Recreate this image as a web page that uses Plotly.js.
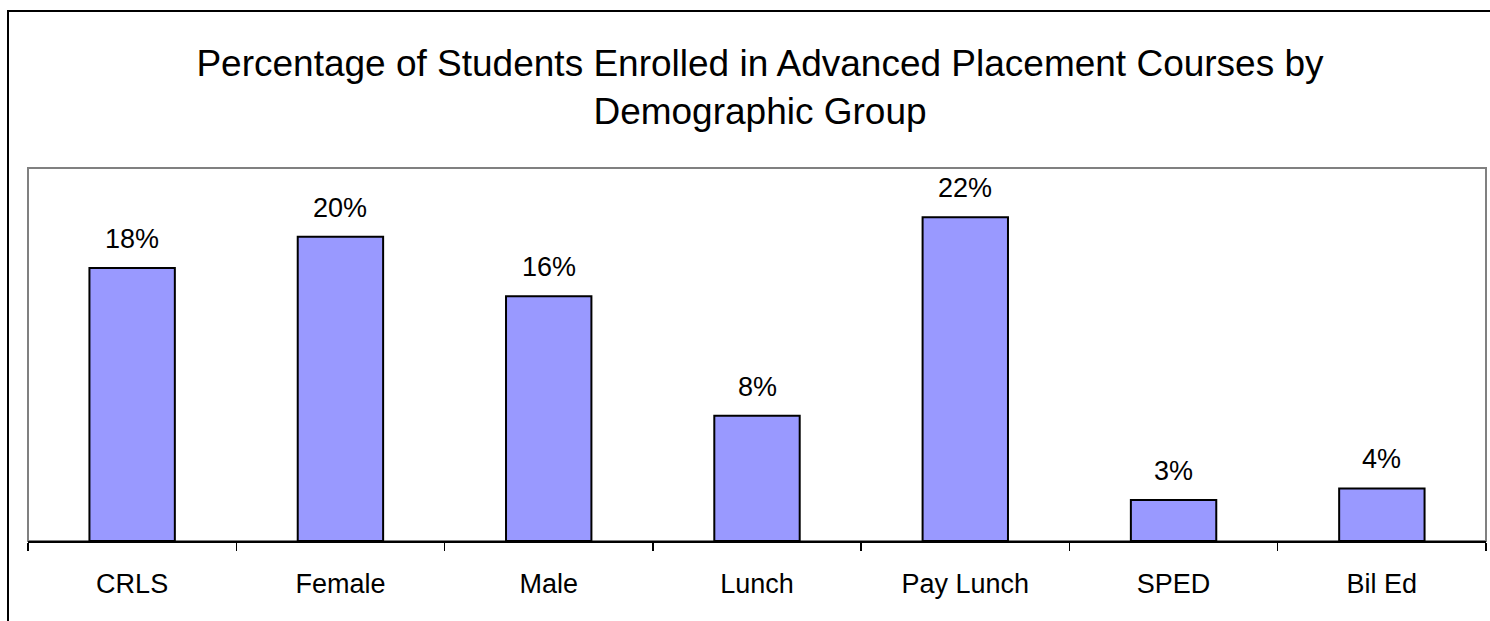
<!DOCTYPE html>
<html><head><meta charset="utf-8">
<script src="https://cdn.plot.ly/plotly-3.0.1.min.js"></script>
<style>html,body{margin:0;padding:0;background:#fff}</style>
</head><body><div id="chart" style="width:1490px;height:621px"></div>
<script>
const categories = ["CRLS", "Female", "Male", "Lunch", "Pay Lunch", "SPED", "Bil Ed"];
const enrolledShare = [0.183, 0.204, 0.164, 0.084, 0.217, 0.0275, 0.0352];
const chartTitle = "Percentage of Students Enrolled in Advanced Placement Courses by<br>Demographic Group";

const FONT = "Liberation Sans, Arial, Helvetica, sans-serif";
const labelFont = {family: FONT, size: 27, color: "#000"};

const trace = {
  type: "bar",
  x: categories,
  y: enrolledShare,
  width: 0.41,
  marker: {color: "#9999FF", line: {color: "#000", width: 2}},
  hoverinfo: "skip"
};

const annotations = categories.map((c, i) => ({
  x: c, y: enrolledShare[i], xref: "x", yref: "y",
  text: Math.round(enrolledShare[i] * 100) + "%",
  showarrow: false, yanchor: "bottom", yshift: 12,
  font: labelFont
}));

const L = 28, R = 1486, T = 168, B = 541, W = 1490, H = 621;
const pw = R - L, ph = B - T;

const layout = {
  width: W, height: H,
  paper_bgcolor: "#fff", plot_bgcolor: "#fff",
  margin: {l: L, r: W - R, t: T, b: H - B, pad: 0},
  showlegend: false,
  title: {
    text: chartTitle,
    font: {family: FONT, size: 37, color: "#000"},
    xref: "container", x: 760 / W, xanchor: "center",
    yref: "container", y: 1 - 76 / H, yanchor: "middle"
  },
  xaxis: {
    type: "category",
    showline: true, linecolor: "#000", linewidth: 1.5,
    ticks: "outside", tickson: "boundaries", ticklen: 8, tickcolor: "#000", tickwidth: 1.5,
    tickfont: labelFont, ticklabelstandoff: 18,
    showgrid: false, zeroline: false, fixedrange: true
  },
  yaxis: {
    range: [0, 0.25], visible: false, showgrid: false, zeroline: false, fixedrange: true
  },
  annotations: annotations,
  shapes: [
    {type: "rect", xref: "paper", yref: "paper", x0: 0, x1: 1, y0: 0, y1: 1,
     line: {color: "#808080", width: 2}, layer: "below"},
    {type: "rect", xref: "paper", yref: "paper",
     x0: (8 - L) / pw, x1: (W + 10 - L) / pw, y0: (B - (H + 10)) / ph, y1: (B - 11) / ph,
     line: {color: "#000", width: 2}, layer: "below"}
  ]
};

Plotly.newPlot("chart", [trace], layout, {displayModeBar: false, staticPlot: true});
</script></body></html>
